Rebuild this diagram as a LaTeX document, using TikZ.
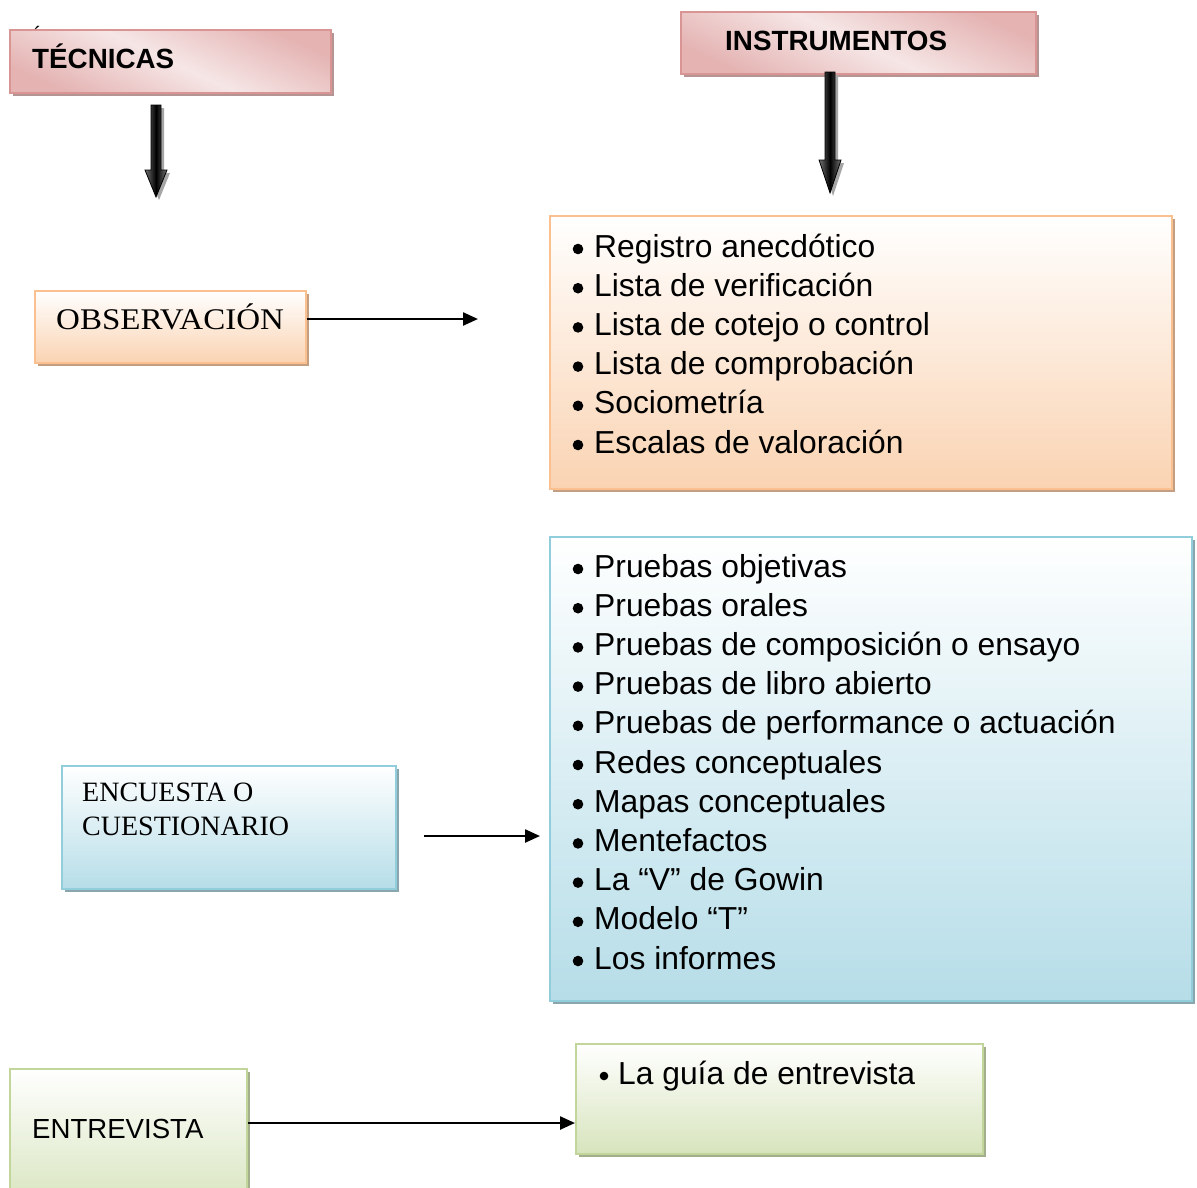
\documentclass[tikz,border=0pt]{standalone}
\usepackage{fontspec}
\setmainfont{Liberation Serif}
\setsansfont{Liberation Sans}
\newfontfamily\lsans{Liberation Sans}
\newfontfamily\serifwide[FakeStretch=1.1]{Liberation Serif}
\usetikzlibrary{arrows.meta}
\definecolor{pinkB}{HTML}{D99594}
\definecolor{pinkD}{HTML}{E4B3B2}
\definecolor{pinkL}{HTML}{F6E6E6}
\definecolor{pinkS}{HTML}{B59494}
\definecolor{orB}{HTML}{FAC090}
\definecolor{orF}{HTML}{FAD3B2}
\definecolor{orS}{HTML}{C49E80}
\definecolor{blB}{HTML}{92CDDC}
\definecolor{blF}{HTML}{B6DDE8}
\definecolor{blS}{HTML}{89A6AE}
\definecolor{grB}{HTML}{C2D69B}
\definecolor{grF}{HTML}{D7E4BD}
\definecolor{grS}{HTML}{A3AF8A}
\newcommand\blkarrow[4]{%
  \fill[black!35] (#1-5+3,#2+3) -- (#1+5+3,#2+3) -- (#1+5+3,#3+3) -- (#1+11+3,#3+3) -- (#1+3,#4+3) -- (#1-11+3,#3+3) -- (#1-5+3,#3+3) -- cycle;
  \draw[line width=0.8pt, left color=black!55, right color=black!55, middle color=black]
    (#1-5,#2) -- (#1+5,#2) -- (#1+5,#3) -- (#1+11,#3) -- (#1,#4) -- (#1-11,#3) -- (#1-5,#3) -- cycle;}
\begin{document}
\begin{tikzpicture}[x=1pt,y=-1pt,
  box/.style={rectangle, draw=#1B, line width=1.6pt, anchor=north west, inner sep=0pt,
    preaction={fill=#1S, transform canvas={xshift=3.5pt,yshift=-3.5pt}}},
  vshade/.style={top color=white, bottom color=#1F},
  pinkshade/.style={top color=pinkD, bottom color=pinkD, middle color=pinkL, shading angle=-25},
  conn/.style={line width=2.4pt, -{Triangle[length=15pt,width=13pt]}},
  item/.style={anchor=base west, inner sep=0pt, font=\lsans\fontsize{31.8}{36}\selectfont},
  sanst/.style={anchor=base west, inner sep=0pt, font=\lsans\fontsize{27.6}{32}\selectfont},
  boldt/.style={anchor=base west, inner sep=0pt, font=\lsans\bfseries\fontsize{27.8}{32}\selectfont},
  serift/.style={anchor=base west, inner sep=0pt, font=\fontsize{28}{34}\selectfont, align=left},
]
\useasboundingbox (0,0) rectangle (1197,1187);
\fill[white] (0,0) rectangle (1197,1187);

% header boxes
\node[box=pink, pinkshade, minimum width=321pt, minimum height=63pt] (tec) at (9,29) {};
\node[boldt] (tect) at (32,68) {TÉCNICAS};
\node[anchor=base west, inner sep=0pt, font=\lsans\fontsize{22}{22}\selectfont] (acc) at (34,42) {´};
\node[box=pink, pinkshade, minimum width=355pt, minimum height=62pt] (ins) at (680,11) {};
\node[boldt] (inst) at (725,50) {INSTRUMENTOS};

\blkarrow{156}{105}{170}{197}
\blkarrow{830}{72}{160}{193}

% observacion
\node[box=or, vshade=or, minimum width=271pt, minimum height=72pt] (obs) at (34,290) {};
\node[serift, font=\serifwide\fontsize{30}{34}\selectfont] (obst) at (56,329) {OBSERVACIÓN};
\node[box=or, vshade=or, minimum width=622pt, minimum height=273pt] (obl) at (549,215) {};
\foreach \t [count=\i] in {Registro anecdótico, Lista de verificación, Lista de cotejo o control,
  Lista de comprobación, Sociometría, Escalas de valoración}{
  \node[item] (o\i) at (594,{257+39.2*(\i-1)}) {\t};
  \fill (578,{249+39.2*(\i-1)}) circle (5.3pt);
}
\coordinate (a1e) at (478,319);
\draw[conn] (obs.east |- a1e) -- (a1e);

% encuesta
\node[box=bl, vshade=bl, minimum width=334pt, minimum height=123pt] (enc) at (61,765) {};
\node[serift] (enct) at (82,801) {ENCUESTA O};
\node[serift] (enct2) at (82,835) {CUESTIONARIO};
\node[box=bl, vshade=bl, minimum width=642pt, minimum height=464pt] (bll) at (549,536) {};
\foreach \t [count=\i] in {Pruebas objetivas, Pruebas orales, Pruebas de composición o ensayo,
  Pruebas de libro abierto, Pruebas de performance o actuación, Redes conceptuales,
  Mapas conceptuales, Mentefactos, La “V” de Gowin, Modelo “T”, Los informes}{
  \node[item] (b\i) at (594,{577+39.2*(\i-1)}) {\t};
  \fill (578,{569+39.2*(\i-1)}) circle (5.3pt);
}
\coordinate (a2s) at (424,836);
\coordinate (a2e) at (540,836);
\draw[conn] (a2s) -- (a2e);

% entrevista
\node[box=gr, vshade=gr, minimum width=237pt, minimum height=140pt] (ent) at (9,1068) {};
\node[sanst] (entt) at (32,1138) {ENTREVISTA};
\node[box=gr, vshade=gr, minimum width=407pt, minimum height=110pt] (gui) at (575,1043) {};
\node[item] (g1) at (618,1084) {La guía de entrevista};
\fill (604,1076) circle (4.3pt);
\coordinate (a3) at (575,1123);
\draw[conn] (ent.east |- a3) -- (gui.west |- a3);
\end{tikzpicture}
\end{document}
